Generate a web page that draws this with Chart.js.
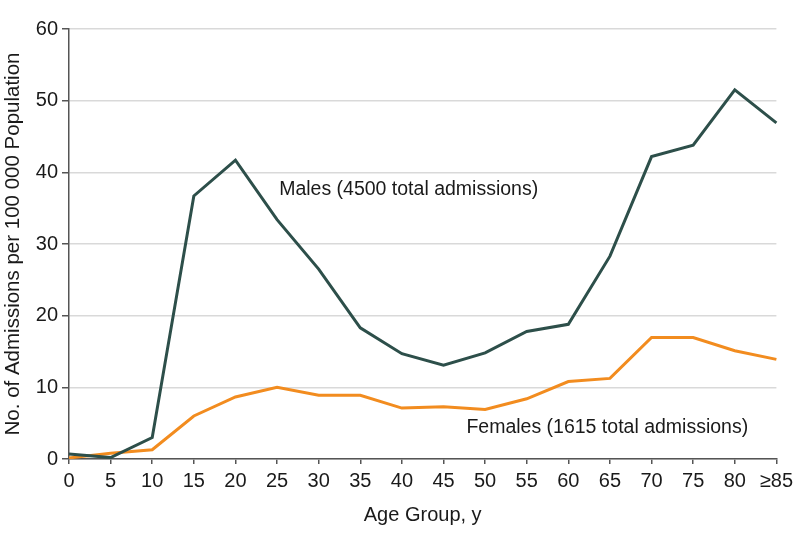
<!DOCTYPE html>
<html>
<head>
<meta charset="utf-8">
<script src="https://cdn.jsdelivr.net/npm/chart.js@4.4.1/dist/chart.umd.min.js"></script>
<style>
  html, body { margin: 0; padding: 0; background: #fff; }
  #wrap { width: 798px; height: 543px; position: relative; }
</style>
</head>
<body>
<div id="wrap"><canvas id="admChart"></canvas></div>
<script>
// Age groups and admission rates per 100 000 population
const ageGroups = ['0', '5', '10', '15', '20', '25', '30', '35', '40', '45', '50', '55', '60', '65', '70', '75', '80', '≥85'];
const malesRate = [0.7, 0.2, 3.0, 36.7, 41.7, 33.4, 26.5, 18.3, 14.7, 13.1, 14.8, 17.8, 18.8, 28.3, 42.2, 43.8, 51.5, 46.9];
const femalesRate = [0.15, 0.8, 1.3, 6.0, 8.65, 10.0, 8.9, 8.9, 7.1, 7.3, 6.9, 8.4, 10.8, 11.25, 16.95, 16.95, 15.1, 13.9];
const yTicks = [0, 10, 20, 30, 40, 50, 60];

const FONT = 'Liberation Sans, Arial, sans-serif';
const MALE_COLOR = '#2d4f4a';
const FEMALE_COLOR = '#f28c1f';

// Series labels written next to the lines
const seriesLabels = [
    { text: 'Males (4500 total admissions)', x: 5.05, y: 37.6 },
    { text: 'Females (1615 total admissions)', x: 9.55, y: 4.4 }
];

const labelPlugin = {
    id: 'seriesLabels',
    afterDatasetsDraw(chart) {
        const { ctx, scales } = chart;
        ctx.save();
        ctx.font = '19.5px ' + FONT;
        ctx.fillStyle = '#1a1a1a';
        ctx.textAlign = 'left';
        ctx.textBaseline = 'middle';
        seriesLabels.forEach(l => {
            ctx.fillText(l.text, scales.x.getPixelForValue(l.x), scales.y.getPixelForValue(l.y));
        });
        ctx.restore();
    }
};

new Chart(document.getElementById('admChart'), {
    type: 'line',
    data: {
        labels: ageGroups,
        datasets: [
            {
                label: 'Males',
                data: malesRate,
                borderColor: MALE_COLOR,
                borderWidth: 3,
                pointRadius: 0,
                tension: 0,
                fill: false
            },
            {
                label: 'Females',
                data: femalesRate,
                borderColor: FEMALE_COLOR,
                borderWidth: 3,
                pointRadius: 0,
                tension: 0,
                fill: false
            }
        ]
    },
    options: {
        responsive: true,
        maintainAspectRatio: false,
        animation: false,
        layout: { padding: { left: 0, right: 21, top: 29, bottom: 0 } },
        plugins: {
            legend: { display: false },
            tooltip: { enabled: false }
        },
        scales: {
            x: {
                offset: false,
                grid: { drawOnChartArea: false, tickColor: '#555', tickLength: 5, lineWidth: 1.5 },
                border: { color: '#555', width: 1.5 },
                ticks: { color: '#1a1a1a', font: { family: FONT, size: 20 }, padding: 5, maxRotation: 0, autoSkip: false },
                title: {
                    display: true,
                    text: 'Age Group, y',
                    color: '#1a1a1a',
                    font: { family: FONT, size: 20 },
                    padding: { top: 0, bottom: 16 }
                },
                afterFit(scale) { scale.height = 84; }
            },
            y: {
                min: 0,
                max: 60,
                afterBuildTicks(scale) { scale.ticks = yTicks.map(v => ({ value: v })); },
                grid: { color: '#d9d9d9', lineWidth: 1.5, tickColor: '#555', tickLength: 7 },
                border: { color: '#555', width: 1.5 },
                ticks: { color: '#1a1a1a', font: { family: FONT, size: 20 }, padding: 4 },
                title: {
                    display: true,
                    text: 'No. of Admissions per 100 000 Population',
                    color: '#1a1a1a',
                    font: { family: FONT, size: 20.5 },
                    padding: { top: 1, bottom: 0 }
                },
                afterFit(scale) { scale.width = 69; }
            }
        }
    },
    plugins: [labelPlugin]
});
</script>
</body>
</html>
